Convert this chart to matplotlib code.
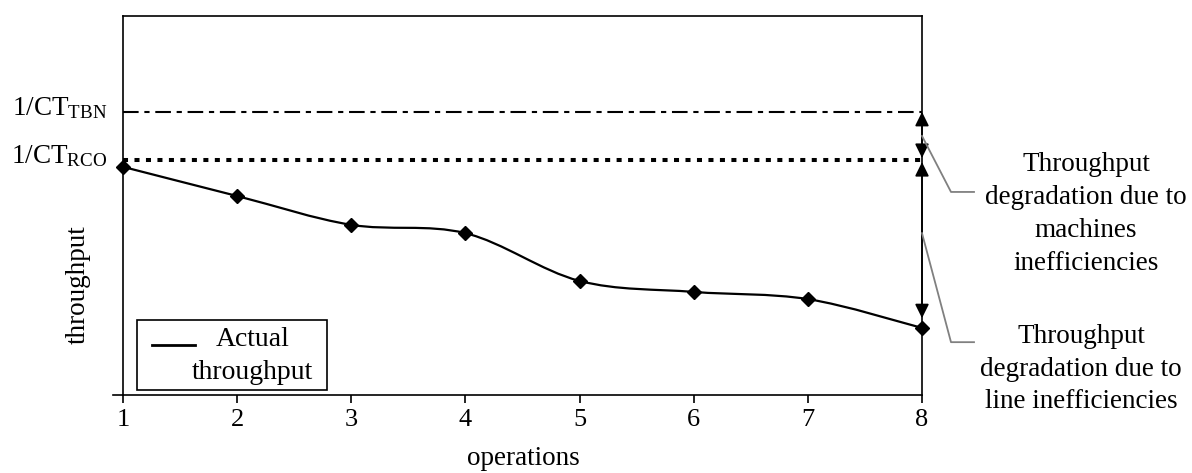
import numpy as np
import matplotlib
matplotlib.use("Agg")
import matplotlib.pyplot as plt
from matplotlib.path import Path
from matplotlib.patches import PathPatch, Rectangle
from matplotlib.lines import Line2D
from matplotlib.transforms import IdentityTransform, ScaledTranslation
from matplotlib.legend_handler import HandlerLine2D

plt.rcParams['font.family'] = ['Liberation Serif', 'DejaVu Serif']
plt.rcParams['mathtext.fontset'] = 'custom'
plt.rcParams['mathtext.rm'] = 'Liberation Serif'
plt.rcParams['mathtext.it'] = 'Liberation Serif:italic'

# ---- data ----
operations = [1, 2, 3, 4, 5, 6, 7, 8]
throughput = [0.602, 0.525, 0.449, 0.427, 0.301, 0.272, 0.253, 0.177]
ct_tbn = 0.747
ct_rco = 0.620
ytick_labels = [r'$\mathrm{1/CT_{TBN}}$', r'$\mathrm{1/CT_{RCO}}$']
xtick_labels = ['1', '2', '3', '4', '5', '6', '7', '8']
legend_label = 'Actual\nthroughput'
callout_machines = 'Throughput\ndegradation due to\nmachines\ninefficiencies'
callout_line = 'Throughput\ndegradation due to\nline inefficiencies'

FS = 19.5
W, H = 1192, 473
fig = plt.figure(figsize=(W / 100, H / 100), dpi=100)
AX_L, AX_B, AX_W, AX_H = 123, 78, 799, 379
ax = fig.add_axes([AX_L / W, AX_B / H, AX_W / W, AX_H / H])
ax.set_xlim(1, 8)
ax.set_ylim(0, 1)


def ax_x(px):
    return (px - AX_L) / AX_W


def ax_y(py):
    return (H - AX_B - py) / AX_H


for s in ax.spines.values():
    s.set_linewidth(1.2)
    s.set_color('black')

# smooth curve through points (Catmull-Rom -> cubic Bezier)
x = np.array(operations, dtype=float)
y = np.array(throughput, dtype=float)
pts = np.column_stack([x, y])
verts = [pts[0]]
codes = [Path.MOVETO]
n = len(pts)
for i in range(n - 1):
    p0 = pts[max(i - 1, 0)]
    p1 = pts[i]
    p2 = pts[i + 1]
    p3 = pts[min(i + 2, n - 1)]
    c1 = p1 + (p2 - p0) / 6.0
    c2 = p2 - (p3 - p1) / 6.0
    verts += [c1, c2, p2]
    codes += [Path.CURVE4] * 3
ax.add_patch(PathPatch(Path(verts, codes), facecolor='none', edgecolor='black',
                       lw=1.6, clip_on=False, zorder=3))
ax.plot(x, y, linestyle='none', marker='D', ms=7, color='black', clip_on=False, zorder=4)

# reference levels
ax.axhline(ct_tbn, color='black', lw=1.5, linestyle=(0, (7.5, 2.75, 2.5, 2.75)), zorder=2)
ax.axhline(ct_rco, color='black', lw=2.9, linestyle=(0, (1.25, 1.6)), zorder=2)

# double arrows on right edge
astyle = '<|-|>,head_length=0.85,head_width=0.42'
ax.annotate('', xy=(8, ct_tbn), xytext=(8, ct_rco),
            arrowprops=dict(arrowstyle=astyle, mutation_scale=10, color='black', lw=1.2,
                            shrinkA=1.5, shrinkB=0), annotation_clip=False, zorder=5)
ax.annotate('', xy=(8, ct_rco), xytext=(8, throughput[-1]),
            arrowprops=dict(arrowstyle=astyle, mutation_scale=10, color='black', lw=1.2,
                            shrinkA=7, shrinkB=1.5), annotation_clip=False, zorder=5)

# ticks
ax.set_xticks(operations)
ax.set_xticklabels(xtick_labels)
ax.set_yticks([ct_tbn, ct_rco])
ax.set_yticklabels(ytick_labels)
ax.tick_params(axis='x', direction='out', length=5.8, width=1.2, pad=4, labelsize=FS - 0.5)
ax.tick_params(axis='y', length=0, pad=11, labelsize=FS)
down3 = ScaledTranslation(0, -3 / 100, fig.dpi_scale_trans)
for tk in ax.yaxis.get_major_ticks():
    tk.label1.set_va('baseline')
    tk.label1.set_transform(tk.label1.get_transform() + down3)

# x-axis line extends a bit to the left of the y-axis
ax.plot([ax_x(113), 0], [0, 0], transform=ax.transAxes, color='black', lw=1.2, clip_on=False)

# axis labels
ax.text(ax_x(78), ax_y(285), 'throughput', transform=ax.transAxes,
        rotation=90, ha='center', va='center', fontsize=FS)
ax.text(ax_x(523), ax_y(465), 'operations', transform=ax.transAxes,
        ha='center', va='baseline', fontsize=FS)


# legend (handle aligned with first text line)
class TopLineHandler(HandlerLine2D):
    def __init__(self, shift, **kw):
        super().__init__(**kw)
        self.shift = shift

    def create_artists(self, legend, orig_handle, xdescent, ydescent, width, height,
                       fontsize, trans):
        arts = super().create_artists(legend, orig_handle, xdescent, ydescent, width,
                                      height, fontsize, trans)
        for a in arts:
            a.set_ydata(np.asarray(a.get_ydata(), dtype=float) + self.shift)
        return arts


LFS = 20
handle = Line2D([], [], color='black', lw=2)
leg = ax.legend(handles=[handle], labels=[legend_label],
                handler_map={handle: TopLineHandler(shift=7.5)},
                loc='upper left', bbox_to_anchor=(ax_x(152), ax_y(327)),
                borderaxespad=0, borderpad=0, frameon=False, fontsize=LFS,
                handlelength=43 / (LFS * 100 / 72), handletextpad=-0.12)
for t in leg.get_texts():
    t.set_multialignment('center')
    t.set_linespacing(1.4)
ax.add_patch(Rectangle((ax_x(137), ax_y(390)), 190 / AX_W, 70 / AX_H,
                       transform=ax.transAxes, facecolor='white', edgecolor='black',
                       lw=1.2, clip_on=False, zorder=4.5))
leg.set_zorder(6)

# callouts
fig.canvas.draw()
gray = '#808080'
for anchor_y, dy in [((ct_tbn + ct_rco) / 2, 56), (0.427, 109)]:
    x0, y0 = ax.transData.transform((8, anchor_y))
    fig.add_artist(Line2D([x0, x0 + 29, x0 + 52], [y0, y0 - dy, y0 - dy],
                          transform=IdentityTransform(), color=gray, lw=1.3))

fig.text(1086 / W, 1 - 214 / H, callout_machines, ha='center', va='center',
         multialignment='center', fontsize=FS, linespacing=1.42)
fig.text(1081 / W, 1 - 369 / H, callout_line, ha='center', va='center',
         multialignment='center', fontsize=FS, linespacing=1.42)

fig.savefig('out.png', dpi=100)
